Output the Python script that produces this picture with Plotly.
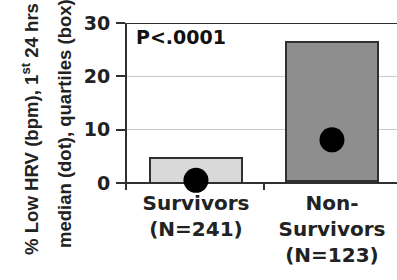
import plotly.graph_objects as go

categories = ["Survivors<br>(N=241)", "Non-<br>Survivors<br>(N=123)"]
q1 = [0.0, 0.3]
q3 = [4.7, 26.4]
median = [0.5, 8.1]
box_colors = ["#d9d9d9", "#8e8e8e"]
y_ticks = [0, 10, 20, 30]

fig = go.Figure()
fig.add_trace(go.Bar(
    x=categories,
    y=[b - a for a, b in zip(q1, q3)],
    base=q1,
    width=0.67,
    marker=dict(color=box_colors, line=dict(color="#303030", width=2)),
    hoverinfo="skip",
))
fig.add_trace(go.Scatter(
    x=categories, y=median, mode="markers",
    marker=dict(color="black", size=25),
    cliponaxis=False,
))

fig.update_layout(
    width=397, height=280,
    margin=dict(l=127, r=0, t=23, b=90),
    paper_bgcolor="white", plot_bgcolor="white",
    showlegend=False,
    bargap=0,
    font=dict(family="DejaVu Sans", color="#222222"),
)
fig.update_xaxes(
    type="category",
    range=[-0.507, 1.478],
    tickson="boundaries",
    ticks="inside", ticklen=7, tickwidth=1.5, tickcolor="#303030",
    showline=False, showgrid=False, zeroline=False,
    ticklabelstandoff=-1,
    tickfont=dict(family="DejaVu Sans", size=20, weight="bold", color="#222222"),
)
fig.update_yaxes(
    range=[-1.31, 30],
    tickvals=y_ticks,
    ticks="outside", ticklen=9, tickwidth=1.5, tickcolor="#303030",
    showline=True, linecolor="#303030", linewidth=2,
    showgrid=True, gridcolor="#c8c8c8", gridwidth=1,
    zeroline=True, zerolinecolor="#303030", zerolinewidth=2,
    ticklabelstandoff=2,
    tickfont=dict(family="DejaVu Sans", size=19, weight="bold", color="#222222"),
)
fig.add_shape(type="line", xref="paper", yref="y", x0=0, x1=1, y0=30, y1=30,
              line=dict(color="#303030", width=2))
fig.add_annotation(text="P<.0001", xref="paper", yref="paper",
                   x=(134 - 127) / 270, y=(190 - 37.5) / 167,
                   xanchor="left", yanchor="middle", showarrow=False,
                   font=dict(family="DejaVu Sans", size=19, weight="bold", color="#111111"))
fig.add_annotation(text="% Low HRV (bpm), 1<sup>st</sup> 24 hrs", textangle=-90,
                   xref="paper", yref="paper",
                   x=(30 - 127) / 270, y=(190 - 129) / 167,
                   xanchor="center", yanchor="middle", showarrow=False,
                   font=dict(family="Liberation Sans", size=18.6, weight="bold", color="#222222"))
fig.add_annotation(text="median (dot), quartiles (box)", textangle=-90,
                   xref="paper", yref="paper",
                   x=(64 - 127) / 270, y=(190 - 124) / 167,
                   xanchor="center", yanchor="middle", showarrow=False,
                   font=dict(family="Liberation Sans", size=18.5, weight="bold", color="#222222"))

fig.write_html("out.html")
